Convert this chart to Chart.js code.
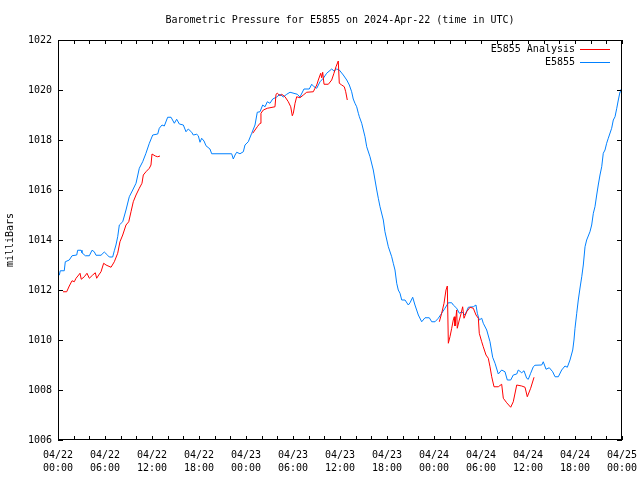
<!DOCTYPE html>
<html lang="en">

<head>
    <meta charset="UTF-8">
    <title>Barometric Pressure E5855</title>
    <script src="https://cdn.jsdelivr.net/npm/chart.js@4.4.1/dist/chart.umd.min.js"></script>
    <style>
        body { margin: 0; background: #fff; }
        canvas { display: block; }
    </style>
</head>

<body>
    <canvas id="myChart" width="640" height="480"></canvas>

    <script>
        // hours since 2024-04-22 00:00 UTC
        const xTickLabels = [
            ['04/22', '00:00'], ['04/22', '06:00'], ['04/22', '12:00'], ['04/22', '18:00'],
            ['04/23', '00:00'], ['04/23', '06:00'], ['04/23', '12:00'], ['04/23', '18:00'],
            ['04/24', '00:00'], ['04/24', '06:00'], ['04/24', '12:00'], ['04/24', '18:00'],
            ['04/25', '00:00']
        ];
        const yTicks = [1006, 1008, 1010, 1012, 1014, 1016, 1018, 1020, 1022];

        // E5855 station obs
        const stationHours = [
            0, 0.17, 0.29, 0.8, 0.93, 1.44, 1.79, 2.39, 2.51, 2.94, 3.06, 3.49, 4.0, 4.34, 4.63, 4.85, 5.49, 5.91, 6.34, 6.55,
            6.98, 7.19, 7.4, 7.62, 7.83, 8.26, 8.68, 9.1, 9.54, 9.96, 10.38, 10.81, 11.23, 11.66, 12.09, 12.73, 12.93, 13.28, 13.57, 14.0,
            14.43, 14.85, 15.15, 15.49, 16.0, 16.34, 16.63, 17.07, 17.27, 17.71, 17.91, 18.13, 18.34, 18.64, 18.89, 19.4, 19.62, 22.17, 22.38, 22.6,
            22.81, 23.23, 23.66, 23.87, 24.29, 24.73, 25.15, 25.44, 25.79, 26.13, 26.43, 26.72, 27.06, 27.41, 27.92, 28.34, 28.76, 29.2, 29.62, 30.55,
            30.89, 31.4, 32.08, 32.39, 32.68, 33.03, 33.45, 33.87, 34.3, 34.94, 35.23, 35.58, 35.91, 36.42, 36.86, 37.19, 37.49, 37.69, 37.91, 38.13,
            38.34, 38.47, 38.77, 39.19, 39.41, 39.83, 40.25, 40.47, 40.69, 40.89, 41.11, 41.53, 41.74, 42.17, 42.6, 42.8, 43.02, 43.24, 43.44, 43.66,
            43.88, 44.3, 44.72, 44.94, 45.28, 45.57, 46.0, 46.43, 46.85, 47.4, 47.71, 48.13, 48.55, 48.98, 49.4, 49.83, 50.26, 50.46, 50.9, 51.23,
            51.54, 51.96, 52.38, 53.02, 53.36, 53.53, 53.78, 54.09, 54.29, 54.73, 55.15, 55.49, 55.79, 56.21, 56.64, 57.06, 57.36, 57.79, 58.12, 58.56,
            58.76, 59.2, 59.49, 59.83, 60.04, 60.34, 60.68, 60.89, 61.75, 61.95, 62.3, 62.72, 63.15, 63.45, 63.87, 64.3, 64.72, 65.02, 65.36, 65.71,
            65.87, 66.0, 66.22, 66.42, 66.64, 66.86, 67.06, 67.28, 67.49, 67.91, 68.13, 68.34, 68.55, 68.77, 68.97, 69.19, 69.41, 69.61, 69.83, 70.04,
            70.25, 70.68, 70.89, 71.11, 71.33, 71.53, 71.75, 71.87
        ];
        const stationPressure = [
            1012.6, 1012.6, 1012.77, 1012.77, 1013.13, 1013.2, 1013.37, 1013.4, 1013.59, 1013.59, 1013.49, 1013.37, 1013.37, 1013.59, 1013.53, 1013.39, 1013.39, 1013.52, 1013.39, 1013.32,
            1013.32, 1013.57, 1013.8, 1014.13, 1014.6, 1014.73, 1015.2, 1015.73, 1016.0, 1016.27, 1016.87, 1017.13, 1017.47, 1017.87, 1018.2, 1018.24, 1018.47, 1018.6, 1018.56, 1018.91,
            1018.91, 1018.67, 1018.83, 1018.64, 1018.6, 1018.33, 1018.44, 1018.31, 1018.2, 1018.23, 1018.17, 1017.91, 1018.07, 1017.96, 1017.77, 1017.64, 1017.45, 1017.45, 1017.24, 1017.4,
            1017.51, 1017.45, 1017.53, 1017.8, 1017.93, 1018.27, 1018.6, 1019.11, 1019.13, 1019.4, 1019.33, 1019.53, 1019.47, 1019.64, 1019.72, 1019.83, 1019.72, 1019.83, 1019.91, 1019.83,
            1019.72, 1020.04, 1020.04, 1020.23, 1020.13, 1020.07, 1020.33, 1020.47, 1020.67, 1020.84, 1020.76, 1020.84, 1020.8, 1020.6, 1020.4, 1020.2, 1019.93, 1019.64, 1019.47, 1019.33,
            1019.07, 1018.93, 1018.67, 1018.13, 1017.73, 1017.33, 1016.8, 1016.4, 1016.0, 1015.67, 1015.33, 1014.8, 1014.33, 1013.73, 1013.33, 1013.07, 1012.8, 1012.27, 1012.0, 1011.87,
            1011.6, 1011.6, 1011.4, 1011.49, 1011.71, 1011.4, 1011.0, 1010.73, 1010.89, 1010.89, 1010.73, 1010.73, 1010.87, 1011.07, 1011.27, 1011.49, 1011.49, 1011.4, 1011.27, 1011.07,
            1011.13, 1011.0, 1011.31, 1011.33, 1011.4, 1011.07, 1010.8, 1010.87, 1010.67, 1010.4, 1009.93, 1009.31, 1009.07, 1008.64, 1008.8, 1008.73, 1008.4, 1008.4, 1008.6, 1008.64,
            1008.8, 1008.69, 1008.77, 1008.47, 1008.43, 1008.67, 1008.93, 1008.99, 1009.0, 1009.13, 1008.83, 1008.89, 1008.73, 1008.53, 1008.53, 1008.8, 1008.96, 1008.91, 1009.2, 1009.6,
            1010.0, 1010.47, 1011.07, 1011.6, 1012.08, 1012.53, 1013.0, 1013.73, 1014.0, 1014.33, 1014.6, 1015.07, 1015.33, 1015.8, 1016.2, 1016.6, 1016.93, 1017.47, 1017.6, 1017.87,
            1018.07, 1018.47, 1018.8, 1018.93, 1019.27, 1019.6, 1019.93, 1020.03
        ];

        // E5855 Analysis (null = gap)
        const analysisHours = [
            0.64, 1.11, 1.44, 1.79, 2.08, 2.3, 2.64, 2.81, 2.97, 3.36, 3.7, 4.0, 4.43, 4.76, 4.94, 5.2, 5.49, 5.83, 6.13, 6.77,
            7.19, 7.62, 7.91, 8.26, 8.68, 9.03, 9.32, 9.61, 9.96, 10.38, 10.72, 10.89, 11.23, 11.66, 11.87, 12.0, 12.42, 12.73, 13.02,
            18.0,
            24.86, 25.15, 25.44, 25.79, 25.91, 26.21, 26.72, 27.06, 27.7, 27.83, 28.0, 28.34, 28.56, 28.98, 29.4, 29.71, 29.91, 30.04, 30.26, 30.47,
            30.89, 31.32, 31.75, 32.59, 32.81, 33.03, 33.23, 33.54, 33.66, 33.79, 33.96, 34.51, 34.94, 35.23, 35.49, 35.78, 35.91, 36.22, 36.55, 36.73, 36.93,
            42.0,
            48.68, 48.98, 49.28, 49.53, 49.7, 49.83, 50.04, 50.26, 50.46, 50.59, 50.68, 50.9, 50.97, 51.23, 51.41, 51.66, 51.83, 52.17, 52.6, 53.02,
            53.36, 53.66, 53.78, 54.09, 54.29, 54.64, 54.93, 55.15, 55.37, 55.66, 56.21, 56.64, 56.85, 57.28, 57.79, 58.12, 58.56, 59.2, 59.62, 59.91,
            60.34, 60.77
        ];
        const analysisPressure = [
            1011.93, 1011.93, 1012.16, 1012.37, 1012.33, 1012.47, 1012.6, 1012.67, 1012.43, 1012.53, 1012.67, 1012.47, 1012.6, 1012.69, 1012.47, 1012.6, 1012.73, 1013.07, 1013.0, 1012.91,
            1013.13, 1013.47, 1013.93, 1014.2, 1014.6, 1014.73, 1015.13, 1015.53, 1015.8, 1016.07, 1016.27, 1016.6, 1016.73, 1016.87, 1017.0, 1017.44, 1017.36, 1017.33, 1017.36,
            null,
            1018.27, 1018.4, 1018.53, 1018.67, 1019.07, 1019.2, 1019.27, 1019.29, 1019.33, 1019.83, 1019.87, 1019.77, 1019.83, 1019.73, 1019.53, 1019.33, 1018.97, 1019.07, 1019.47, 1019.73,
            1019.69, 1019.8, 1019.91, 1019.93, 1020.07, 1020.2, 1020.4, 1020.67, 1020.49, 1020.71, 1020.23, 1020.23, 1020.4, 1020.67, 1020.93, 1021.16, 1020.27, 1020.2, 1020.13, 1019.93, 1019.6,
            null,
            1010.73, 1011.07, 1011.47, 1012.0, 1012.16, 1009.87, 1010.13, 1010.47, 1010.8, 1010.93, 1010.56, 1011.2, 1010.47, 1010.8, 1011.0, 1011.33, 1010.87, 1011.13, 1011.31, 1011.27,
            1011.0, 1010.87, 1010.27, 1009.93, 1009.73, 1009.4, 1009.27, 1008.93, 1008.53, 1008.13, 1008.13, 1008.23, 1007.67, 1007.49, 1007.31, 1007.53, 1008.2, 1008.16, 1008.11, 1007.73,
            1008.07, 1008.51
        ];

        const FONT = 'DejaVu Sans Mono';
        const RED = '#ff0000';
        const BLUE = '#0080ff';

        const toPoints = (xs, ys) => xs.map((x, i) => ({ x: x, y: ys[i] }));

        // gnuplot-ish frame with inward ticks + legend on the right
        const framePlugin = {
            id: 'frame',
            afterDraw(chart) {
                const c = chart.ctx;
                const a = chart.chartArea;
                const xs = chart.scales.x, ys = chart.scales.y;
                c.save();
                c.strokeStyle = '#000';
                c.lineWidth = 1;
                c.strokeRect(Math.round(a.left) + 0.5, Math.round(a.top) + 0.5,
                    Math.round(a.right - a.left) - 1, Math.round(a.bottom - a.top) - 1);
                c.beginPath();
                for (let h = 0; h <= 72; h += 2) {
                    const px = Math.round(xs.getPixelForValue(h)) + 0.5;
                    c.moveTo(px, a.bottom); c.lineTo(px, a.bottom - 4);
                    c.moveTo(px, a.top); c.lineTo(px, a.top + 4);
                }
                yTicks.forEach(v => {
                    const py = Math.round(ys.getPixelForValue(v)) + 0.5;
                    c.moveTo(a.left, py); c.lineTo(a.left + 5, py);
                    c.moveTo(a.right, py); c.lineTo(a.right - 5, py);
                });
                c.stroke();

                // legend
                c.font = '10px "' + FONT + '"';
                c.textAlign = 'right';
                c.textBaseline = 'middle';
                c.fillStyle = '#000';
                chart.data.datasets.forEach((ds, i) => {
                    const y = a.top + 9 + i * 13;
                    c.fillText(ds.label, a.right - 47, y);
                    c.strokeStyle = ds.borderColor;
                    c.beginPath();
                    c.moveTo(a.right - 42, Math.round(y) + 0.5);
                    c.lineTo(a.right - 12, Math.round(y) + 0.5);
                    c.stroke();
                });
                c.restore();
            }
        };

        const ctx = document.getElementById('myChart');

        new Chart(ctx, {
            type: 'line',
            data: {
                datasets: [{
                    label: 'E5855 Analysis',
                    data: toPoints(analysisHours, analysisPressure),
                    borderColor: RED,
                    borderWidth: 1,
                    pointRadius: 0,
                    tension: 0,
                    spanGaps: false
                }, {
                    label: 'E5855',
                    data: toPoints(stationHours, stationPressure),
                    borderColor: BLUE,
                    borderWidth: 1,
                    pointRadius: 0,
                    tension: 0
                }]
            },
            options: {
                responsive: false,
                animation: false,
                layout: { padding: { top: 0, right: 18, left: 0, bottom: 0 } },
                plugins: {
                    legend: { display: false },
                    tooltip: { enabled: false },
                    title: {
                        display: true,
                        fullSize: false,
                        text: 'Barometric Pressure for E5855 on 2024-Apr-22 (time in UTC)',
                        color: '#000',
                        font: { family: FONT, size: 10, weight: 'normal', lineHeight: 1.3 },
                        padding: { top: 14, bottom: 13 }
                    }
                },
                scales: {
                    x: {
                        type: 'linear',
                        min: 0,
                        max: 72,
                        afterFit: (s) => { s.height = 40; s.paddingLeft = 0; s.paddingRight = 0; },
                        grid: { display: false, drawTicks: false },
                        border: { display: false },
                        ticks: {
                            stepSize: 6,
                            autoSkip: false,
                            maxRotation: 0,
                            padding: 9,
                            color: '#000',
                            font: { family: FONT, size: 10, lineHeight: 1.3 },
                            callback: (v) => xTickLabels[Math.round(v / 6)]
                        }
                    },
                    y: {
                        min: 1006,
                        max: 1022,
                        afterFit: (s) => { s.width = 58; s.paddingTop = 0; s.paddingBottom = 0; },
                        grid: { display: false, drawTicks: false },
                        border: { display: false },
                        ticks: {
                            stepSize: 2,
                            padding: 6,
                            color: '#000',
                            font: { family: FONT, size: 10 },
                            callback: (v) => String(v)
                        },
                        title: {
                            display: true,
                            text: 'milliBars',
                            color: '#000',
                            font: { family: FONT, size: 10, lineHeight: 1.3 },
                            padding: { top: 4, bottom: 0 }
                        }
                    }
                }
            },
            plugins: [framePlugin]
        });
    </script>
</body>

</html>
